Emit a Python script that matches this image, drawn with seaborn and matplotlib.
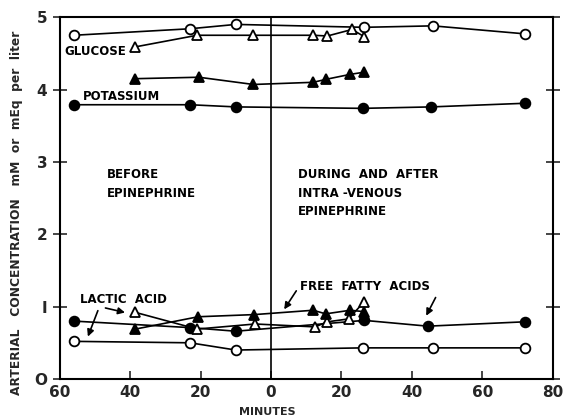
import matplotlib
matplotlib.use("Agg")
import matplotlib.pyplot as plt
import seaborn as sns
import pandas as pd

# ---- data (minutes relative to epinephrine start, concentration) ----
glu_circ_x = [-56, -23, -10, 26.5, 46, 72]
glu_circ_y = [4.75, 4.84, 4.90, 4.86, 4.88, 4.77]
glu_tri_x = [-38.5, -21, -5, 12, 16, 23, 26.5]
glu_tri_y = [4.59, 4.75, 4.75, 4.75, 4.74, 4.83, 4.73]
pot_tri_x = [-38.5, -20.5, -5, 12, 15.5, 22.5, 26.5]
pot_tri_y = [4.15, 4.17, 4.07, 4.10, 4.14, 4.21, 4.24]
pot_circ_x = [-56, -23, -10, 26, 45.5, 72]
pot_circ_y = [3.79, 3.79, 3.76, 3.74, 3.76, 3.81]
ffa_circ_x = [-56, -23, -10, 26.5, 44.5, 72]
ffa_circ_y = [0.80, 0.71, 0.66, 0.81, 0.73, 0.79]
lac_circ_x = [-56, -23, -10, 26, 46, 72]
lac_circ_y = [0.52, 0.50, 0.40, 0.43, 0.43, 0.43]
lac_tri_x = [-38.5, -21, -4.5, 12.5, 16, 22, 26.5]
lac_tri_y = [0.92, 0.69, 0.76, 0.72, 0.79, 0.83, 1.07]
ffa_tri_x = [-38.5, -20.7, -4.7, 12, 15.5, 22.5, 26.5, 26.5]
ffa_tri_y = [0.69, 0.86, 0.89, 0.95, 0.90, 0.95, 0.93, 0.86]

xticks = [-60, -40, -20, 0, 20, 40, 60, 80]
xticklabels = ["60", "40", "20", "0", "20", "40", "60", "80"]
yticks = [0, 1, 2, 3, 4, 5]
yticklabels = ["O", "I", "2", "3", "4", "5"]

sns.set_style("ticks")
plt.rcParams["font.family"] = ["DejaVu Sans"]

fig = plt.figure(figsize=(5.64, 4.19), dpi=100)
ax = fig.add_axes([0.106, 0.0955, 0.874, 0.8635])

series = [
    (glu_circ_x, glu_circ_y, "o", False),
    (glu_tri_x, glu_tri_y, "^", False),
    (pot_tri_x, pot_tri_y, "^", True),
    (pot_circ_x, pot_circ_y, "o", True),
    (ffa_circ_x, ffa_circ_y, "o", True),
    (lac_circ_x, lac_circ_y, "o", False),
    (lac_tri_x, lac_tri_y, "^", False),
    (ffa_tri_x, ffa_tri_y, "^", True),
]
for xs, ys, mk, filled in series:
    df = pd.DataFrame({"x": xs, "y": ys})
    sns.lineplot(data=df, x="x", y="y", ax=ax, sort=False, estimator=None,
                 color="black", linewidth=1.2, marker=mk,
                 markersize=7.5 if mk == "^" else 7,
                 markerfacecolor="black" if filled else "white",
                 markeredgecolor="black", markeredgewidth=1.3, zorder=3)

ax.axvline(0, color="black", linewidth=1.2, zorder=2)

ax.set_xlim(-60, 80)
ax.set_ylim(0, 5)
ax.set_xticks(xticks)
ax.set_xticklabels(xticklabels)
ax.set_yticks(yticks)
ax.set_yticklabels(yticklabels)
for s in ax.spines.values():
    s.set_linewidth(1.5)
    s.set_color("black")
ax.tick_params(axis="x", direction="in", length=6, width=1.2, labelsize=11, pad=4)
ax.tick_params(axis="y", direction="inout", length=10, width=1.2, labelsize=11,
               right=True, pad=4)
for lab in ax.get_xticklabels() + ax.get_yticklabels():
    lab.set_fontweight("bold")

ax.set_xlabel("")
ax.set_ylabel("ARTERIAL   CONCENTRATION   mM  or  mEq  per  liter",
              fontsize=8.8, fontweight="bold")
ax.yaxis.set_label_coords(-0.075, 0.46)
fig.text(267 / 564, 1 - 412 / 419, "MINUTES", fontsize=8, fontweight="bold",
         ha="center", va="center")

tk = dict(fontsize=8.5, fontweight="bold", color="black", va="center", ha="left")
ax.text(-58.6, 4.52, "GLUCOSE", **tk)
ax.text(-53.5, 3.91, "POTASSIUM", **tk)
ax.text(-54.3, 1.10, "LACTIC  ACID", **tk)
ax.text(8.2, 1.28, "FREE  FATTY  ACIDS", **tk)
ax.text(-46.7, 2.82, "BEFORE", **tk)
ax.text(-46.7, 2.57, "EPINEPHRINE", **tk)
ax.text(7.6, 2.82, "DURING  AND  AFTER", **tk)
ax.text(7.6, 2.57, "INTRA -VENOUS", **tk)
ax.text(7.6, 2.31, "EPINEPHRINE", **tk)

ap = dict(arrowstyle="-|>", color="black", lw=1.2, mutation_scale=10)
ax.annotate("", xy=(-40.7, 0.91), xytext=(-47.8, 0.99), arrowprops=ap)
ax.annotate("", xy=(-52.3, 0.55), xytext=(-48.9, 0.98), arrowprops=ap)
ax.annotate("", xy=(3.3, 0.93), xytext=(7.6, 1.25), arrowprops=ap)
ax.annotate("", xy=(43.7, 0.84), xytext=(47.1, 1.16), arrowprops=ap)

fig.savefig("out.png", dpi=100)
